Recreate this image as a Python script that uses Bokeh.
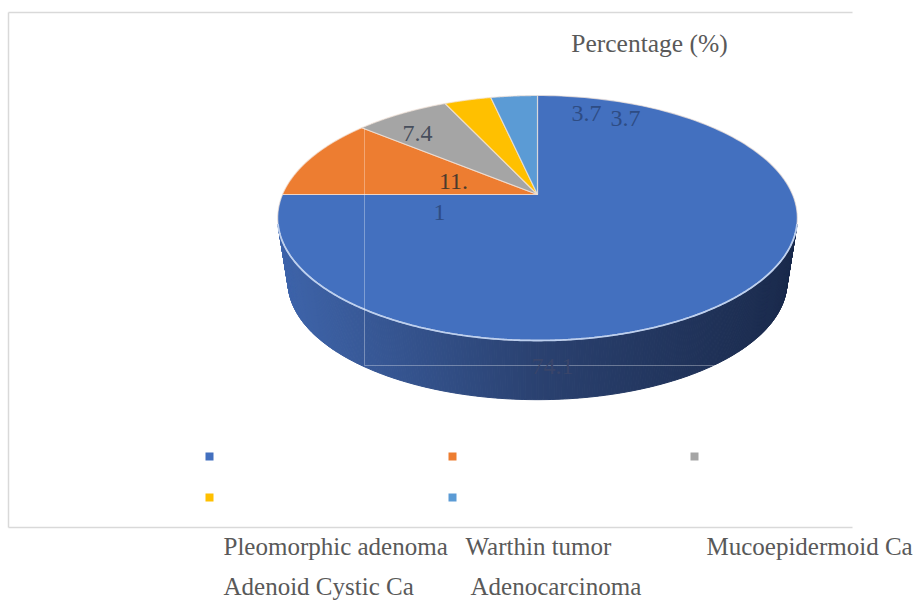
import numpy as np
from bokeh.core.properties import value
from bokeh.embed import file_html
from bokeh.models import ColumnDataSource, Range1d
from bokeh.plotting import figure
from bokeh.resources import INLINE

categories = ["Pleomorphic adenoma", "Warthin tumor", "Mucoepidermoid Ca",
              "Adenoid Cystic Ca", "Adenocarcinoma"]
percentages = [74.1, 11.1, 7.4, 3.7, 3.7]
colors = ["#4370BF", "#ED7D31", "#A5A5A5", "#FFC000", "#5B9BD5"]
chart_title = "Percentage (%)"

# Geometry of the tilted disc, in page pixels
CX, CY = 537.0, 194.0
A, B, K = 255.0, 118.0, 0.1918
VIEW_SKEW = np.radians(3.3)
FLOOR_SCALE, FLOOR_DROP = 0.96, 65.0
FONT = value("Liberation Serif")


def project(theta):
    """Map clockwise-from-top pie angles onto the tilted plane of the disc."""
    seen = theta - VIEW_SKEW * np.sin(theta)
    u, v = np.sin(seen), np.cos(seen)
    w = 1 + K * v
    return CX + A * u / w, CY - B * v / w


def mix(c0, c1, t):
    return tuple(a + (b - a) * t for a, b in zip(c0, c1))


def to_hex(c):
    return "#%02x%02x%02x" % tuple(int(round(x)) for x in c)


p = figure(width=921, height=601, output_backend="svg", toolbar_location=None,
           x_range=Range1d(0, 921), y_range=Range1d(601, 0),
           min_border=0, outline_line_color=None, background_fill_color="white",
           border_fill_color="white")
p.xaxis.visible = False
p.yaxis.visible = False
p.grid.visible = False

# Chart frame, open on the right
p.multi_line([[8, 8], [8, 852], [8, 852]], [[12, 527], [12, 12], [527, 527]],
             line_color="#D9D9D9", line_width=1.5)

# Side wall as narrow strips so it can shade from left to right;
# the lower edge is a slightly smaller copy of the disc outline
edges = np.linspace(np.radians(107), np.radians(253), 320)
ex, ey = project(edges)
fx = CX + (ex - CX) * FLOOR_SCALE
fy = CY + (ey - CY) * FLOOR_SCALE + FLOOR_DROP
xs, ys, fills = [], [], []
for i in range(len(edges) - 1):
    xs.append([ex[i], ex[i + 1], fx[i + 1], fx[i]])
    ys.append([ey[i], ey[i + 1], fy[i + 1], fy[i]])
    t = (0.5 * (ex[i] + ex[i + 1]) - 277) / 520
    if t < 0.5:
        fills.append(to_hex(mix((62, 100, 170), (42, 65, 112), t / 0.5)))
    else:
        fills.append(to_hex(mix((42, 65, 112), (26, 42, 76), (t - 0.5) / 0.5)))
p.patches(xs, ys, fill_color=fills, line_color=fills, line_width=1)

# Slices of the top surface
fractions = np.cumsum([0] + percentages) / sum(percentages)
slice_x, slice_y = [], []
for start, end in zip(fractions[:-1], fractions[1:]):
    theta = np.linspace(start, end, 160) * 2 * np.pi
    sx, sy = project(theta)
    slice_x.append([CX] + list(sx))
    slice_y.append([CY] + list(sy))
p.patches(slice_x, slice_y, fill_color=colors, line_color="#F4E6DC",
          line_width=1.2, line_alpha=0.7)

# Pale rim along the front of the disc
rx, ry = project(edges)
p.line(rx, ry, line_color="#BDD0EF", line_width=1.8)

# Thin leader lines crossing the disc and wall
p.multi_line([[364, 364], [364, 745]], [[128, 365], [365, 365]],
             line_color="#FFFFFF", line_alpha=0.32, line_width=1)

# Value labels
label_src = ColumnDataSource(dict(
    x=[586, 625, 417, 453, 439, 552],
    y=[113, 118, 133, 181, 212, 366],
    text=["3.7", "3.7", "7.4", "11.", "1", "74.1"],
    color=["#2E4C84", "#2E4C84", "#474E5C", "#4B3A2C", "#2E4C84", "#39456A"],
))
p.text("x", "y", text="text", source=label_src, text_color="color", text_font=FONT,
       text_font_size="24px", text_align="center", text_baseline="middle")

# Chart title
p.text([649], [43], text=[chart_title], text_font=FONT, text_font_size="25.5px",
       text_color="#595959", text_align="center", text_baseline="middle")

# Legend keys and, below the frame, their names
key_x = [209, 452, 694, 209, 452]
key_y = [456, 456, 456, 497, 497]
p.scatter(key_x, key_y, marker="square", size=8, fill_color=colors, line_color=None)
p.text([223, 465, 706, 223, 470], [546, 546, 546, 586, 586], text=categories,
       text_font=FONT, text_font_size="25px", text_color="#595959",
       text_align="left", text_baseline="middle")

open("out.html", "w").write(file_html(p, INLINE))
